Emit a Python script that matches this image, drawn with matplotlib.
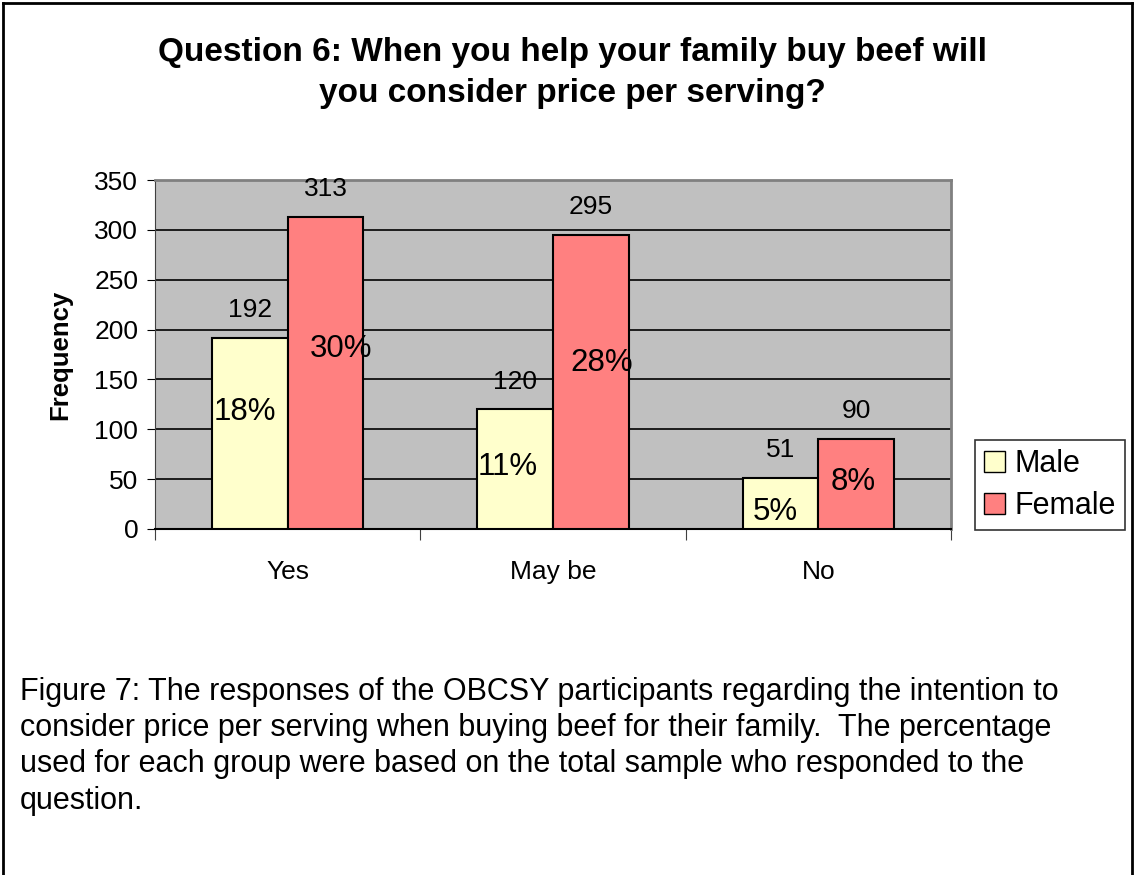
import numpy as np
import matplotlib.pyplot as plt
from matplotlib.lines import Line2D

plt.rcParams['font.family'] = ['Liberation Sans', 'DejaVu Sans']

# survey counts
categories = ["Yes", "May be", "No"]
male = [192, 120, 51]
female = [313, 295, 90]
male_pct = ["18%", "11%", "5%"]
female_pct = ["30%", "28%", "8%"]

# where the percentage labels sit (x shift from bar centre, height)
male_pct_pos = [(-0.02, 117), (-0.03, 62), (-0.02, 17)]
female_pct_pos = [(0.06, 181), (0.04, 166), (-0.01, 47)]

fig = plt.figure(figsize=(11.35, 8.75), dpi=100)
ax = fig.add_axes([155 / 1135, 1 - 529 / 875, 796 / 1135, 349 / 875])

x = np.arange(len(categories))
w = 0.285
ax.bar(x - w / 2, male, w, color="#FFFFCC", edgecolor="black", linewidth=1.5, zorder=3)
ax.bar(x + w / 2, female, w, color="#FF8080", edgecolor="black", linewidth=1.5, zorder=3)

for i in range(len(categories)):
    ax.annotate(str(male[i]), (x[i] - w / 2, male[i]), xytext=(0, 20), textcoords="offset points",
                ha="center", va="center", fontsize=19)
    ax.annotate(str(female[i]), (x[i] + w / 2, female[i]), xytext=(0, 20), textcoords="offset points",
                ha="center", va="center", fontsize=19)
    dx, yy = male_pct_pos[i]
    ax.text(x[i] - w / 2 + dx, yy, male_pct[i], ha="center", va="center", fontsize=22.5, zorder=4)
    dx, yy = female_pct_pos[i]
    ax.text(x[i] + w / 2 + dx, yy, female_pct[i], ha="center", va="center", fontsize=22.5, zorder=4)

ax.set_xlim(-0.5, 2.5)
ax.set_ylim(0, 350)
ax.set_yticks(np.arange(0, 351, 50))
ax.set_facecolor("#C0C0C0")
ax.grid(axis="y", color="black", linewidth=1.2, zorder=1)
ax.set_axisbelow(True)
for s in ["top", "right"]:
    ax.spines[s].set_color("#808080")
    ax.spines[s].set_linewidth(2)
ax.spines["left"].set_color("#404040")
ax.spines["bottom"].set_color("black")
ax.spines["bottom"].set_linewidth(1.5)

ax.set_xticks([-0.5, 0.5, 1.5, 2.5])
ax.set_xticklabels([])
ax.tick_params(axis="x", length=8, direction="out", color="#404040")
ax.set_xticks(x, minor=True)
ax.set_xticklabels(categories, minor=True, fontsize=19)
ax.tick_params(axis="x", which="minor", length=0, pad=22)
ax.tick_params(axis="y", labelsize=19, length=6, pad=6)
ax.set_ylabel("Frequency", fontsize=18.5, fontweight="bold", labelpad=16)

handles = [plt.Rectangle((0, 0), 1, 1, facecolor="#FFFFCC", edgecolor="black"),
           plt.Rectangle((0, 0), 1, 1, facecolor="#FF8080", edgecolor="black")]
leg = fig.legend(handles, ["Male", "Female"], loc="center", bbox_to_anchor=(1050 / 1135, 1 - 485 / 875),
                 fontsize=22, frameon=True, fancybox=False, edgecolor="black", handlelength=0.7,
                 handleheight=0.7, handletextpad=0.3, borderpad=0.3, labelspacing=0.4,
                 borderaxespad=0)
leg.get_frame().set_linewidth(1.2)

fig.text(572 / 1135, 1 - 73 / 875,
         "Question 6: When you help your family buy beef will\nyou consider price per serving?",
         ha="center", va="center", fontsize=24, fontweight="bold", linespacing=1.45)

fig.text(20 / 1135, 1 - 677 / 875,
         "Figure 7: The responses of the OBCSY participants regarding the intention to\n"
         "consider price per serving when buying beef for their family.  The percentage\n"
         "used for each group were based on the total sample who responded to the\n"
         "question.",
         ha="left", va="top", fontsize=22, linespacing=1.27)

# outer frame, open at the bottom
fr = dict(color="black", linewidth=2, transform=fig.transFigure)
fig.add_artist(Line2D([3 / 1135, 3 / 1135], [0, 1 - 3 / 875], **fr))
fig.add_artist(Line2D([3 / 1135, 1132 / 1135], [1 - 3 / 875, 1 - 3 / 875], **fr))
fig.add_artist(Line2D([1132 / 1135, 1132 / 1135], [0, 1 - 3 / 875], **fr))

fig.savefig("out.png", dpi=100)
